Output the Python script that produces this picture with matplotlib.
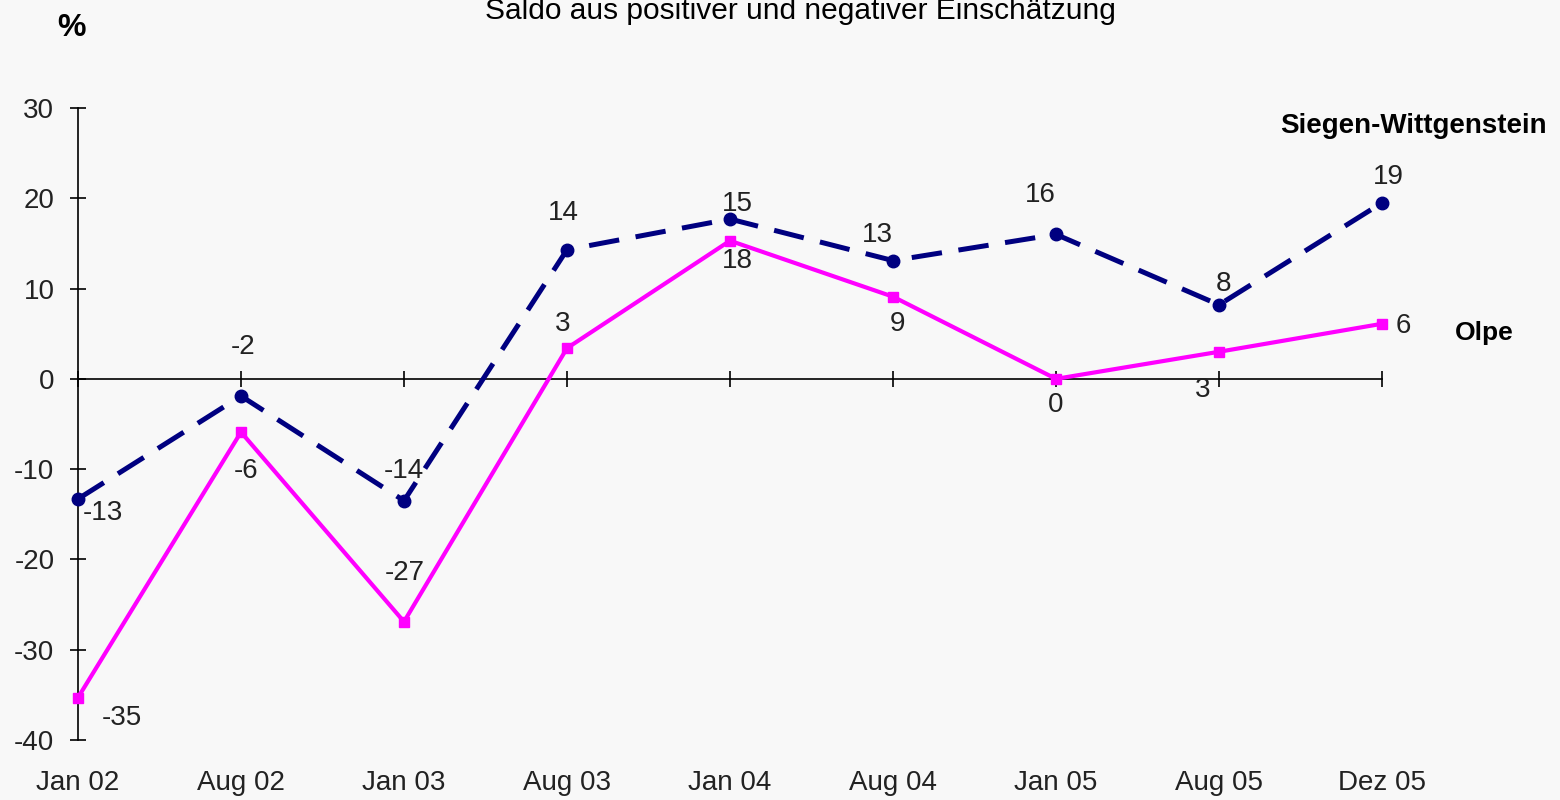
import matplotlib.pyplot as plt
from matplotlib.ticker import MultipleLocator

plt.rcParams['font.family'] = ['Liberation Sans', 'DejaVu Sans']
plt.rcParams['lines.scale_dashes'] = False
plt.rcParams['axes.unicode_minus'] = False

# data
categories = ['Jan 02', 'Aug 02', 'Jan 03', 'Aug 03', 'Jan 04', 'Aug 04', 'Jan 05', 'Aug 05', 'Dez 05']
siegen = [-13.3, -1.9, -13.5, 14.3, 17.7, 13.1, 16.0, 8.2, 19.5]
siegen_labels = ['-13', '-2', '-14', '14', '15', '13', '16', '8', '19']
olpe = [-35.3, -5.9, -26.9, 3.4, 15.3, 9.1, 0.0, 3.0, 6.1]
olpe_labels = ['-35', '-6', '-27', '3', '18', '9', '0', '3', '6']

# label offsets in pixels (dx, dy)
siegen_off = [(25, -14), (2, 49), (0, 30), (-4, 37), (7, 15), (-16, 26), (-16, 39), (4, 21), (6, 26)]
olpe_off = [(44, -20), (5, -39), (1, 49), (-4, 24), (7, -20), (4, -27), (0, -26), (-16, -38), (21, -2)]

bg = '#f8f8f8'
fig = plt.figure(figsize=(15.6, 8), dpi=100, facecolor=bg)
ax = fig.add_axes([0.05, 0.075, 0.8359, 0.79])
ax.set_facecolor(bg)

x = list(range(len(categories)))
ax.plot(x, siegen, color='#000080', lw=3.6, ls=(0, (22, 12)), marker='o', ms=9, clip_on=False, zorder=3)
ax.plot(x, olpe, color='#ff00ff', lw=3, marker='s', ms=7.5, clip_on=False, zorder=3)

for xi, v, lab, off in zip(x, siegen, siegen_labels, siegen_off):
    ax.annotate(lab, (xi, v), xytext=off, textcoords='offset pixels', ha='center', va='center',
                fontsize=20, color='#222222', annotation_clip=False)
for xi, v, lab, off in zip(x, olpe, olpe_labels, olpe_off):
    ax.annotate(lab, (xi, v), xytext=off, textcoords='offset pixels', ha='center', va='center',
                fontsize=20, color='#222222', annotation_clip=False)

ax.set_xlim(0, len(categories) - 1)
ax.set_ylim(-40, 30)
ax.yaxis.set_major_locator(MultipleLocator(10))
ax.set_xticks(x)
ax.set_xticklabels([])
for s in ['top', 'right']:
    ax.spines[s].set_visible(False)
ax.spines['bottom'].set_position(('data', 0))
ax.spines['left'].set_linewidth(1.2)
ax.spines['bottom'].set_linewidth(1.2)
ax.tick_params(axis='both', direction='inout', length=12, width=1.2, colors='black')
ax.tick_params(axis='y', labelsize=20, labelcolor='#222222', pad=11)

for xi, cat in zip(x, categories):
    ax.annotate(cat, (xi, 0), xycoords=('data', 'axes fraction'), xytext=(0, -43),
                textcoords='offset pixels', ha='center', va='center', fontsize=20,
                color='#222222', annotation_clip=False)

fig.text(0.513, 0.976, 'Saldo aus positiver und negativer Einschätzung', ha='center', va='baseline',
         fontsize=21.5, color='black')
fig.text(72 / 1560, 1 - 28 / 800, '%', ha='center', va='center', fontsize=23, fontweight='bold')
fig.text(1280 / 1560, 1 - 126 / 800, 'Siegen-Wittgenstein', ha='left', va='center', fontsize=20,
         fontweight='bold')
fig.text(1455 / 1560, 1 - 333 / 800, 'Olpe', ha='left', va='center', fontsize=19, fontweight='bold')

fig.savefig('out.png', dpi=100, facecolor=bg)
